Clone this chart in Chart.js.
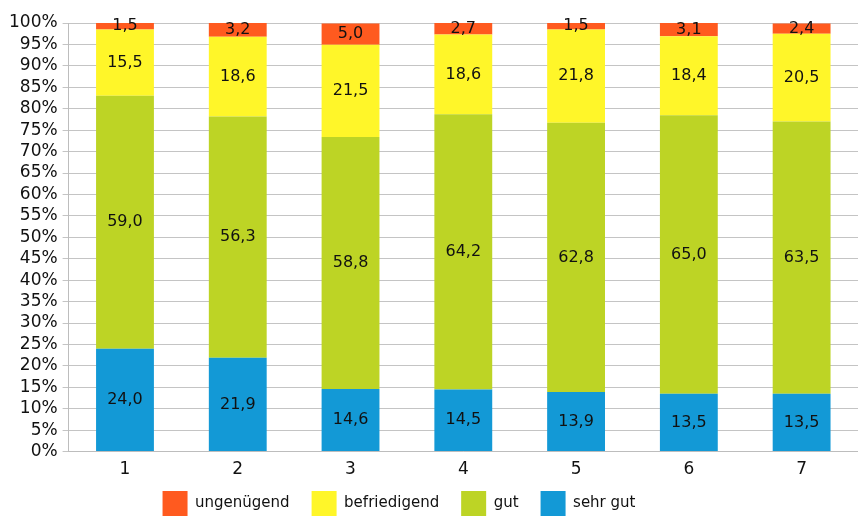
<!DOCTYPE html>
<html>
<head>
<meta charset="utf-8">
<script src="https://cdn.jsdelivr.net/npm/chart.js@4/dist/chart.umd.min.js"></script>
<style>
  html, body { margin: 0; padding: 0; background: #fff; }
  #wrap { width: 858px; height: 516px; }
</style>
</head>
<body>
<div id="wrap"><canvas id="c"></canvas></div>
<script>
const categories = ['1', '2', '3', '4', '5', '6', '7'];
const sehrGut = [24.0, 21.9, 14.6, 14.5, 13.9, 13.5, 13.5];
const gut = [59.0, 56.3, 58.8, 64.2, 62.8, 65.0, 63.5];
const befriedigend = [15.5, 18.6, 21.5, 18.6, 21.8, 18.4, 20.5];
const ungenuegend = [1.5, 3.2, 5.0, 2.7, 1.5, 3.1, 2.4];

const FONT = "'DejaVu Sans', sans-serif";

// value labels centred on each segment, comma decimal
const segmentLabels = {
  id: 'segmentLabels',
  afterDatasetsDraw(chart) {
    const ctx = chart.ctx;
    ctx.save();
    ctx.font = '16px ' + FONT;
    ctx.fillStyle = '#111';
    ctx.textAlign = 'center';
    ctx.textBaseline = 'middle';
    chart.data.datasets.forEach((ds, i) => {
      chart.getDatasetMeta(i).data.forEach((bar, j) => {
        const txt = ds.data[j].toFixed(1).replace('.', ',');
        ctx.fillText(txt, bar.x, (bar.y + bar.base) / 2);
      });
    });
    ctx.restore();
  }
};

// legend sits lower and a bit left of centre, like the original
const legendPlace = {
  id: 'legendPlace',
  beforeLayout(chart) {
    const lg = chart.legend;
    if (lg && !lg._patched) {
      const fit = lg.fit;
      lg.fit = function () { fit.call(this); this.height = 36; };
      lg._patched = true;
    }
  },
  afterLayout(chart) {
    const lg = chart.legend;
    if (!lg) return;
    lg.left -= 32;
    lg.right -= 32;
    lg.top = 469;
    lg.bottom = 516;
  }
};

new Chart(document.getElementById('c'), {
  type: 'bar',
  data: {
    labels: categories,
    datasets: [
      { label: 'sehr gut', data: sehrGut, backgroundColor: '#1399d6' },
      { label: 'gut', data: gut, backgroundColor: '#bdd425' },
      { label: 'befriedigend', data: befriedigend, backgroundColor: '#fff629' },
      { label: 'ungenügend', data: ungenuegend, backgroundColor: '#ff5a1f' }
    ]
  },
  options: {
    responsive: true,
    maintainAspectRatio: false,
    animation: false,
    layout: { padding: { top: 23, right: 0, left: 4, bottom: 0 } },
    datasets: { bar: { barPercentage: 0.513, categoryPercentage: 1, borderWidth: 0 } },
    plugins: {
      legend: {
        position: 'bottom',
        reverse: true,
        labels: {
          boxWidth: 25,
          boxHeight: 25,
          padding: 22,
          color: '#111',
          font: { family: FONT, size: 15 }
        }
      },
      tooltip: { enabled: false }
    },
    scales: {
      x: {
        stacked: true,
        grid: { display: false },
        border: { color: '#bdbdbd' },
        ticks: { color: '#111', font: { family: FONT, size: 17 }, padding: 0 }
      },
      y: {
        stacked: true,
        min: 0,
        max: 100,
        border: { color: '#bdbdbd' },
        grid: { color: '#c4c4c4', tickLength: 6 },
        ticks: {
          stepSize: 5,
          autoSkip: false,
          color: '#111',
          padding: 5,
          font: { family: FONT, size: 17 },
          callback: v => v + '%'
        }
      }
    }
  },
  plugins: [segmentLabels, legendPlace]
});
</script>
</body>
</html>
